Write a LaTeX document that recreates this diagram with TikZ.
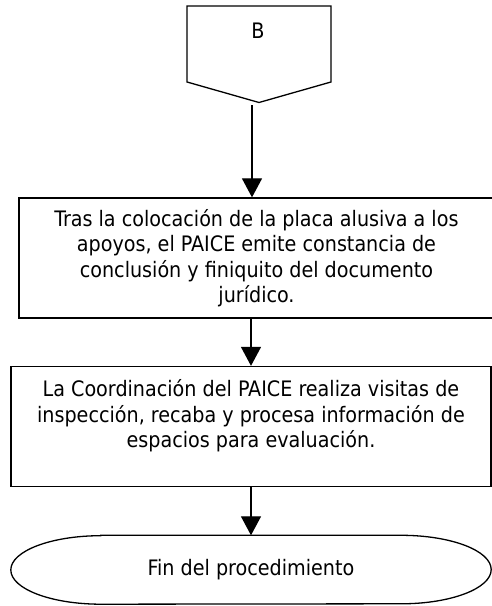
\documentclass[tikz,border=0pt]{standalone}
\usepackage{fontspec}
\setmainfont{DejaVu Sans Condensed}
\usetikzlibrary{positioning,arrows.meta}
\tikzset{
  caja/.style={draw, line width=1.3pt, align=center, inner sep=0pt,
    font=\fontsize{21.3}{25.5}\selectfont},
  flecha/.style={-{Triangle[length=19pt,width=20pt]}, line width=1.3pt},
}
\begin{document}
\begin{tikzpicture}[x=1pt,y=1pt]
\useasboundingbox (0,0) rectangle (492,606);
% conector B
\draw[line width=1.3pt] (187,600) -- (331,600) -- (331,524) -- (259,503.5) -- (187,524) -- cycle;
\node[font=\fontsize{21.3}{25.5}\selectfont] (conB) at (258,575) {B};
\coordinate (conBtip) at (252,500.5);
% cajas
\node[caja, minimum width=475pt, minimum height=120pt] (paso1) at (256.5,348)
  {Tras la colocación de la placa alusiva a los\\apoyos, el PAICE emite constancia de\\conclusión y finiquito del documento\\jurídico.};
\node[caja, minimum width=480pt, minimum height=120pt] (paso2) at (251,179.5)
  {La Coordinación del PAICE realiza visitas de\\inspección, recaba y procesa información de\\espacios para evaluación.\\\mbox{}};
\node[font=\fontsize{21.3}{25.5}\selectfont, minimum width=480pt, minimum height=68.5pt] (fin) at (251,36.25)
  {Fin del procedimiento};
\draw[line width=1.3pt] ([xshift=90pt]fin.north west) -- ([xshift=-90pt]fin.north east)
  arc[start angle=90, end angle=-90, x radius=90pt, y radius=34.25pt]
  -- ([xshift=90pt]fin.south west)
  arc[start angle=270, end angle=90, x radius=90pt, y radius=34.25pt] -- cycle;
% flechas
\draw[flecha] (conBtip) -- (conBtip |- paso1.north);
\draw[flecha] (paso2.north |- paso1.south) -- (paso2.north);
\draw[flecha] (paso2.south) -- (fin.north);
\end{tikzpicture}
\end{document}
